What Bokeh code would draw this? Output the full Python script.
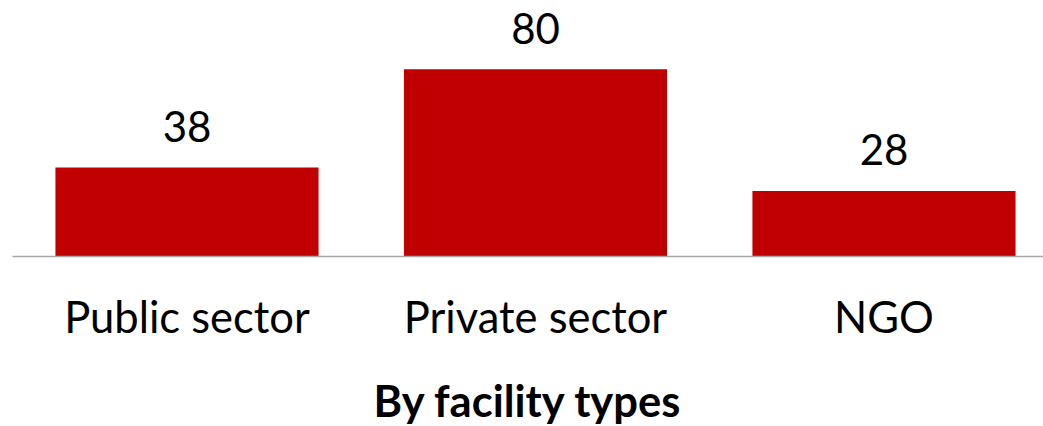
from bokeh.plotting import figure
from bokeh.models import Range1d, FixedTicker, ColumnDataSource, LinearAxis
from bokeh.core.properties import value
from bokeh.embed import file_html
from bokeh.resources import INLINE

categories = ["Public sector", "Private sector", "NGO"]
counts = [38, 80, 28]
axis_title = "By facility types"

xs = list(range(len(categories)))
src = ColumnDataSource(dict(x=xs, top=counts, label=[str(c) for c in counts]))

p = figure(frame_width=1031, frame_height=248,
           x_range=Range1d(-0.5007, 2.4577), y_range=Range1d(0, 106.0),
           output_backend="svg", toolbar_location=None,
           min_border_left=12, min_border_right=0, min_border_top=8,
           x_axis_location=None, y_axis_location=None)

p.vbar(x="x", top="top", width=0.755, bottom=0, source=src,
       fill_color="#c00000", line_color=None)

p.text(x="x", y="top", text="label", source=src,
       text_font=value("Lato"), text_font_size="42px", text_color="#000000",
       text_align="center", text_baseline="alphabetic", y_offset=-41)

xaxis = LinearAxis(ticker=FixedTicker(ticks=xs),
                   major_label_overrides={i: c for i, c in enumerate(categories)})
xaxis.axis_line_color = "#a6a6a6"
xaxis.axis_line_width = 1.5
xaxis.major_tick_line_color = None
xaxis.minor_tick_line_color = None
xaxis.major_tick_out = 0
xaxis.major_tick_in = 0
xaxis.major_label_standoff = 33
xaxis.major_label_text_font = "Lato"
xaxis.major_label_text_font_size = "43.5px"
xaxis.major_label_text_color = "#000000"
xaxis.axis_label = axis_title
xaxis.axis_label_text_font = "Lato"
xaxis.axis_label_text_font_size = "43.5px"
xaxis.axis_label_text_font_style = "bold"
xaxis.axis_label_text_color = "#000000"
xaxis.axis_label_standoff = 29
p.add_layout(xaxis, "below")

p.xgrid.visible = False
p.ygrid.visible = False
p.outline_line_color = None
p.background_fill_color = "white"
p.border_fill_color = "white"

open("out.html", "w").write(file_html(p, INLINE))
